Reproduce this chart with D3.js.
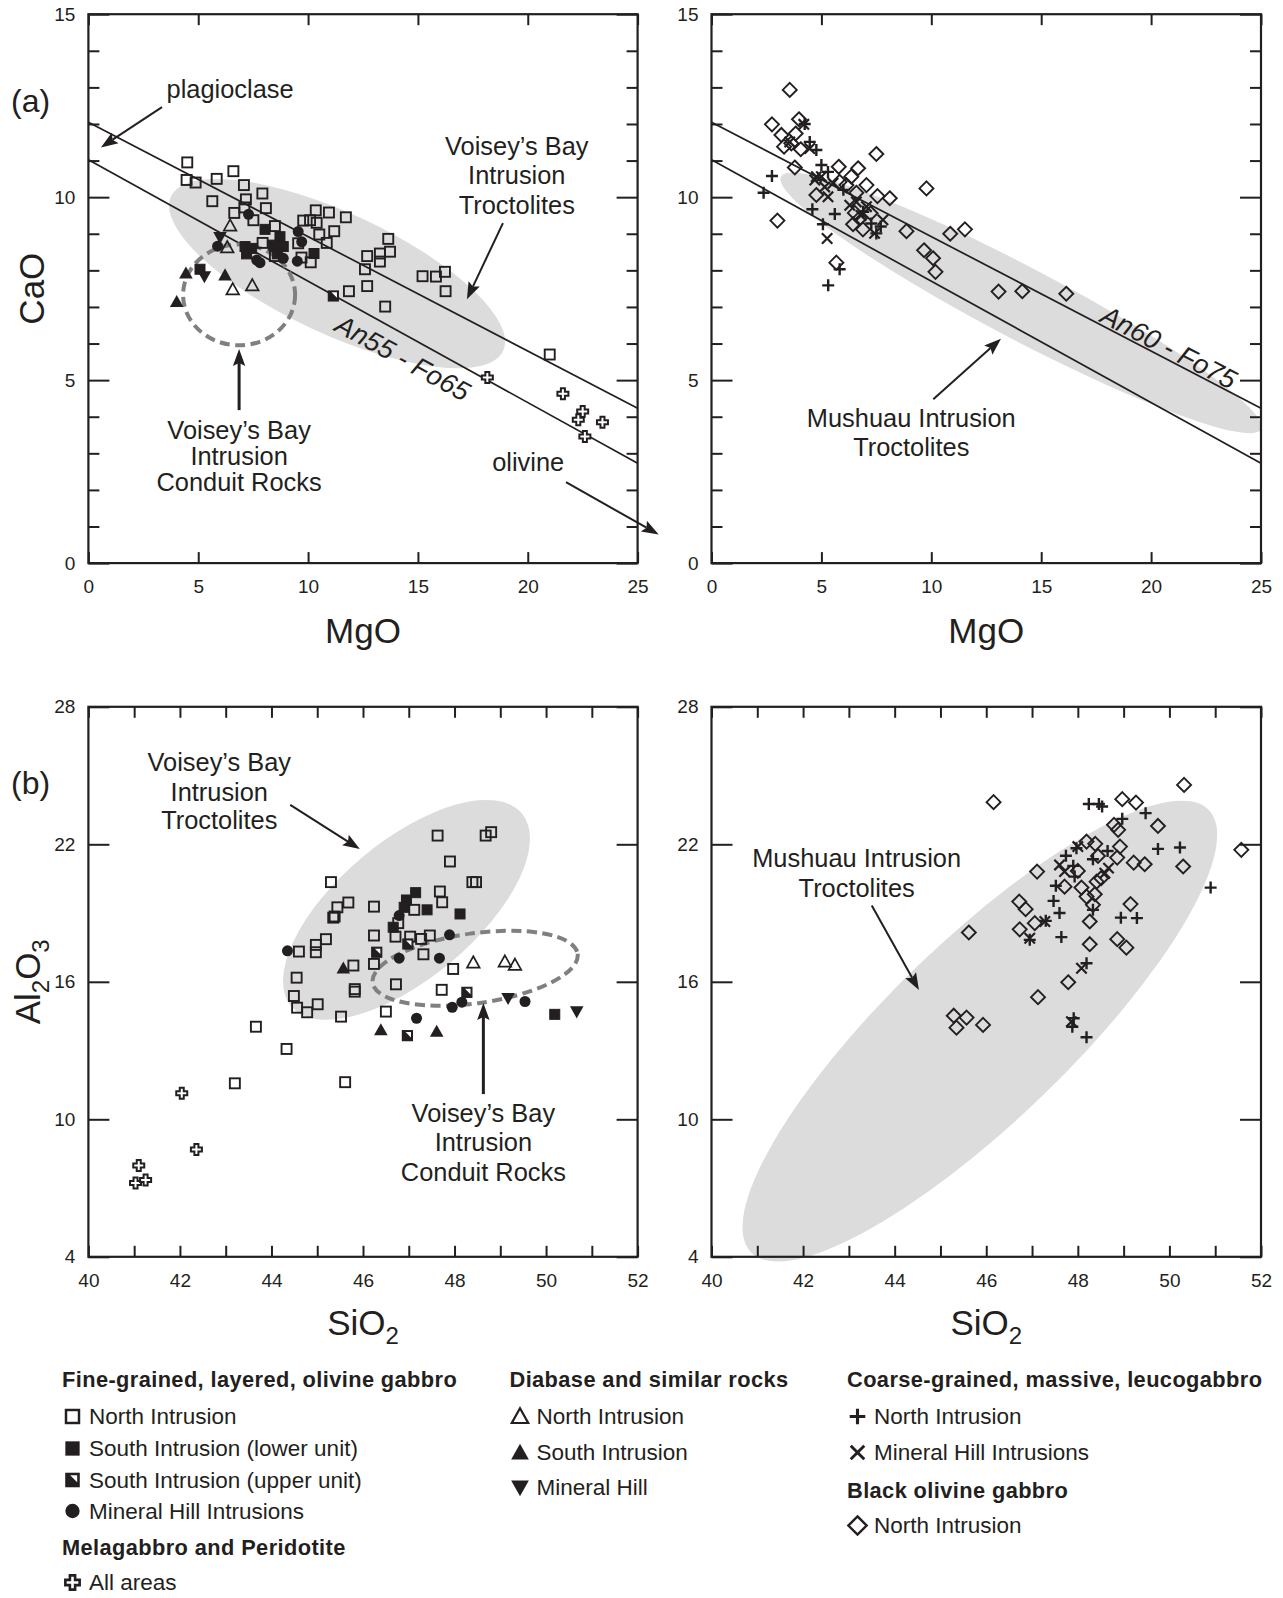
<!DOCTYPE html>
<html>
<head>
<meta charset="utf-8">
<style>
  body { margin: 0; background: #fff; }
  svg text { font-family: "Liberation Sans", Arial, Helvetica, sans-serif; fill: #231f20; }
</style>
</head>
<body>
<svg id="fig" width="1283" height="1598"></svg>
<script src="https://d3js.org/d3.v7.min.js"></script>
<script>
// ---------- data ----------
// panel (a) left: MgO vs CaO, Voisey's Bay
var aL_fineNorth = [[4.50,10.95],[4.47,10.47],[4.88,10.40],[5.84,10.50],[6.60,10.71],[5.64,9.89],[7.08,10.33],[7.17,9.94],[7.10,9.72],
  [7.92,10.10],[6.64,9.57],[8.08,9.70],[7.51,9.37],[8.49,9.21],[10.35,9.64],[10.95,9.58],[11.72,9.45],[9.78,9.36],[10.09,9.37],
  [10.39,9.30],[11.19,9.07],[10.51,8.98],[10.85,8.75],[9.55,8.74],[10.12,8.22],[7.93,8.75],[8.49,8.39],[9.70,8.35],[13.65,8.86],
  [12.69,8.39],[13.27,8.46],[13.73,8.51],[13.27,8.24],[12.59,8.03],[12.69,7.57],[13.51,7.01],[11.86,7.43],[15.21,7.84],
  [15.82,7.83],[16.23,7.96],[16.26,7.43],[21.0,5.70]];
var aL_fineSouthLower = [[8.04,9.12],[8.72,8.92],[8.42,8.69],[8.87,8.65],[7.13,8.65],[7.43,8.60],[7.20,8.45],[10.27,8.46],[5.08,8.03],[8.60,8.45]];
var aL_fineSouthUpper = [[11.15,7.30]];
var aL_fineMH = [[7.29,9.53],[5.88,8.66],[7.66,8.28],[7.81,8.21],[8.87,8.33],[9.51,8.25],[9.55,9.06],[9.71,8.78]];
var aL_diaNorth = [[6.45,9.22],[6.32,8.63],[6.57,7.48],[7.46,7.59]];
var aL_diaSouth = [[4.44,7.92],[4.02,7.14],[6.22,7.87]];
var aL_diaMH = [[5.28,7.83],[5.99,8.90]];
var aL_mela = [[18.16,5.07],[21.6,4.63],[22.5,4.14],[22.3,3.92],[23.4,3.85],[22.6,3.46]];

// panel (a) right: MgO vs CaO, Mushuau
var aR_blackNorth = [[3.56,12.93],[2.75,11.99],[3.98,12.13],[3.18,11.70],[3.83,11.74],[3.30,11.38],[3.63,11.47],[4.06,11.31],
  [3.79,10.81],[7.50,11.18],[5.79,10.83],[6.67,10.79],[7.05,10.33],[9.78,10.24],[4.77,10.06],[7.55,10.03],[8.11,9.97],
  [6.59,10.12],[5.83,10.42],[6.14,10.33],[3.00,9.36],[6.52,9.57],[6.74,9.42],[6.44,9.26],[6.89,9.12],[7.24,9.56],[8.87,9.07],
  [9.67,8.55],[10.08,8.33],[5.68,8.21],[10.86,9.00],[11.53,9.12],[13.06,7.42],[14.14,7.43],[16.14,7.36],[10.19,7.96],[6.36,10.56]];
var aR_coarseNorth = [[2.75,10.58],[2.37,10.12],[4.59,9.67],[5.61,9.54],[5.07,9.26],[7.50,9.01],[5.83,8.03],[4.77,11.29],
  [4.47,11.51],[5.00,10.88],[5.30,10.69],[7.27,9.28],[5.31,7.59],[4.24,12.00],[6.00,10.20],[6.90,9.60],[7.70,9.20]];
var aR_coarseMH = [[5.26,8.87],[4.20,11.99],[4.47,11.33],[3.56,11.51],[4.70,10.47],[5.30,10.01],[7.80,9.38],[7.42,9.01],
  [6.29,9.78],[6.59,9.87],[5.00,10.56],[5.53,10.38],[7.05,9.74],[4.77,10.56],[5.15,10.28],[6.80,9.50]];

// panel (b) left: SiO2 vs Al2O3, Voisey's Bay
var bL_fineNorth = [[47.63,22.38],[48.68,22.38],[48.80,22.53],[47.90,21.25],[48.39,20.35],[48.47,20.35],[47.68,19.94],[47.73,19.47],
  [45.30,20.35],[45.68,19.46],[45.44,19.25],[45.35,18.80],[45.38,18.85],[46.24,19.28],[47.12,19.14],[46.77,18.56],[46.24,18.02],
  [46.71,17.97],[47.03,17.97],[47.27,17.87],[47.46,18.02],[47.32,17.20],[45.19,17.86],[44.97,17.61],[44.97,17.29],[44.60,17.32],
  [45.79,16.71],[46.24,16.78],[44.55,16.18],[44.49,15.38],[44.56,14.87],[44.78,14.67],[45.01,15.02],[45.52,14.48],[45.82,15.68],
  [45.82,15.57],[46.72,15.89],[47.72,15.65],[47.97,16.56],[46.50,14.70],[43.66,14.04],[44.33,13.07],[43.20,11.57],[45.61,11.62]];
var bL_fineSouthLower = [[47.15,19.89],[46.95,19.57],[46.90,19.25],[47.40,19.14],[48.12,18.96],[46.66,18.38],[50.19,14.58]];
var bL_fineSouthUpper = [[46.30,17.29],[46.98,17.65],[48.27,15.54],[46.97,13.65]];
var bL_fineMH = [[44.35,17.35],[46.79,18.89],[46.79,17.03],[47.89,18.05],[47.67,17.03],[47.95,14.89],[48.16,15.11],[47.17,14.41],[49.54,15.14]];
var bL_diaNorth = [[48.41,16.84],[49.10,16.88],[49.32,16.74]];
var bL_diaSouth = [[45.57,16.59],[46.39,13.90],[47.61,13.83]];
var bL_diaMH = [[49.17,15.28],[50.67,14.70]];
var bL_mela = [[42.04,11.14],[42.36,8.68],[41.10,7.98],[41.03,7.22],[41.25,7.35]];

// panel (b) right: SiO2 vs Al2O3, Mushuau
var bR_blackNorth = [[50.32,24.59],[46.16,23.84],[48.97,23.97],[49.27,23.82],[49.75,22.80],[48.79,22.85],[48.88,22.63],[48.92,21.90],
  [48.86,21.42],[49.22,21.20],[49.46,21.13],[50.30,21.03],[51.57,21.76],[48.19,22.12],[48.38,22.02],[48.44,21.49],[47.11,20.81],
  [48.00,20.84],[47.71,20.15],[48.08,20.11],[48.41,20.37],[48.51,20.52],[48.19,19.72],[48.37,19.82],[48.33,19.36],[46.72,19.50],
  [46.86,19.17],[49.15,19.39],[48.26,18.63],[46.73,18.29],[47.06,18.56],[45.62,18.15],[48.86,17.86],[49.06,17.49],[48.26,17.64],
  [47.79,15.98],[47.13,15.33],[45.29,14.52],[45.57,14.44],[45.35,14.00],[45.93,14.12]];
var bR_coarseNorth = [[48.24,23.76],[48.46,23.76],[48.53,23.65],[49.48,23.36],[48.97,23.11],[49.75,21.80],[50.23,21.86],[50.90,20.11],
  [48.94,18.80],[49.29,18.78],[47.64,17.95],[47.60,19.00],[47.47,19.53],[47.52,20.19],[47.74,21.50],[47.97,21.83],[48.65,21.71],
  [48.33,21.35],[47.90,21.06],[47.93,20.59],[47.30,18.66],[48.19,16.81],[47.91,14.41],[47.88,14.04],[48.19,13.58],[48.33,19.14],[46.95,17.83]];
var bR_coarseMH = [[47.60,21.10],[47.71,20.81],[48.00,21.90],[48.59,20.74],[48.67,20.96],[46.95,17.90],[47.28,18.63],[48.08,16.59],[47.86,14.26]];

// mixing lines (MgO, CaO)
var mixUpper = [[0,12.05],[25,4.23]];
var mixLower = [[0,11.02],[25,2.73]];

// fields: centre, end of long axis, short/long axis ratio
var fieldVBTroctA = {c:[11.32,7.91], e:[18.88,5.80], r:0.33};
var fieldMushA = {c:[14.08,7.11], e:[25.0,3.66], r:0.133};
var fieldConduitA = {c:[6.86,7.33], e:[9.41,7.33], r:0.9};
var fieldVBTroctB = {c:[46.95,19.14], e:[49.47,23.35], r:0.457};
var fieldConduitB = {c:[48.45,16.59], e:[50.69,17.22], r:0.338};
var fieldMushB = {c:[45.86,13.85], e:[50.86,23.50], r:0.283};

// axis ticks
var aXTicks = [0,5,10,15,20,25];
var aYMajor = [0,5,10,15];
var aYMinor = [1,2,3,4,6,7,8,9,11,12,13,14];
var bXTicks = [40,41,42,43,44,45,46,47,48,49,50,51,52];
var bYMajor = [4,10,16,22,28];

// ---------- drawing ----------
var INK = '#231f20', SHADE = '#dcdcdc', DASH = '#808080';
var FONT = '"Liberation Sans", Arial, Helvetica, sans-serif';
var svg = d3.select('#fig');
var defs = svg.append('defs');

function makePanel(id, f, xd, yd) {
  var x = d3.scaleLinear().domain(xd).range([f.x0, f.x1]);
  var y = d3.scaleLinear().domain(yd).range([f.y1, f.y0]);
  defs.append('clipPath').attr('id', 'clip-' + id).append('rect')
    .attr('x', f.x0).attr('y', f.y0).attr('width', f.x1 - f.x0).attr('height', f.y1 - f.y0);
  return {id: id, x: x, y: y, f: f, g: svg.append('g')};
}

var pAL = makePanel('aL', {x0:88.4, x1:637.6, y0:14.2, y1:563.1}, [0,25], [0,15]);
var pAR = makePanel('aR', {x0:711.5, x1:1261, y0:14.2, y1:563.1}, [0,25], [0,15]);
var pBL = makePanel('bL', {x0:88.4, x1:637.6, y0:706.8, y1:1256.8}, [40,52], [4,28]);
var pBR = makePanel('bR', {x0:711.5, x1:1261, y0:706.8, y1:1256.8}, [40,52], [4,28]);

function field(p, fd, style, clip) {
  var cx = p.x(fd.c[0]), cy = p.y(fd.c[1]);
  var ex = p.x(fd.e[0]), ey = p.y(fd.e[1]);
  var a = Math.hypot(ex - cx, ey - cy);
  var ang = Math.atan2(ey - cy, ex - cx) * 180 / Math.PI;
  var holder = p.g.append('g');
  if (clip) holder.attr('clip-path', 'url(#clip-' + p.id + ')');
  var el = holder.append('ellipse')
    .attr('cx', cx).attr('cy', cy).attr('rx', a).attr('ry', a * fd.r)
    .attr('transform', 'rotate(' + ang + ',' + cx + ',' + cy + ')');
  if (style == 'shade') el.attr('fill', SHADE).attr('stroke', 'none');
  else el.attr('fill', 'none').attr('stroke', DASH).attr('stroke-width', 4).attr('stroke-dasharray', '10,5.5');
}

function mixLine(p, pts) {
  p.g.append('line')
    .attr('x1', p.x(pts[0][0])).attr('y1', p.y(pts[0][1]))
    .attr('x2', p.x(pts[1][0])).attr('y2', p.y(pts[1][1]))
    .attr('stroke', INK).attr('stroke-width', 1.7);
}

function drawShape(s, type) {
  if (type == 'sqOpen') {
    s.append('rect').attr('x',-5).attr('y',-5).attr('width',10).attr('height',10)
      .attr('fill','none').attr('stroke',INK).attr('stroke-width',1.9);
  } else if (type == 'sqFill') {
    s.append('rect').attr('x',-5).attr('y',-5).attr('width',10).attr('height',10)
      .attr('fill',INK).attr('stroke',INK).attr('stroke-width',1);
  } else if (type == 'sqHalf') {
    s.append('rect').attr('x',-5).attr('y',-5).attr('width',10).attr('height',10)
      .attr('fill',INK).attr('stroke',INK).attr('stroke-width',1.2);
    s.append('path').attr('d','M-1.8,-3.6L3.6,-3.6L3.6,1.8Z').attr('fill','#fff');
  } else if (type == 'circle') {
    s.append('circle').attr('r',5.5).attr('fill',INK);
  } else if (type == 'triOpen') {
    s.append('path').attr('d','M0,-6.3L6.3,5L-6.3,5Z').attr('fill','none').attr('stroke',INK).attr('stroke-width',1.7);
  } else if (type == 'triFill') {
    s.append('path').attr('d','M0,-6.8L6.8,5.3L-6.8,5.3Z').attr('fill',INK);
  } else if (type == 'triDown') {
    s.append('path').attr('d','M0,6.8L6.8,-5.3L-6.8,-5.3Z').attr('fill',INK);
  } else if (type == 'mela') {
    s.append('path').attr('d','M-2,-5.5H2V-2H5.5V2H2V5.5H-2V2H-5.5V-2H-2Z')
      .attr('fill','#fff').attr('stroke',INK).attr('stroke-width',2);
  } else if (type == 'plus') {
    s.append('path').attr('d','M-6,0H6M0,-6V6').attr('stroke',INK).attr('stroke-width',2.4);
  } else if (type == 'cross') {
    s.append('path').attr('d','M-5.2,-5.2L5.2,5.2M-5.2,5.2L5.2,-5.2').attr('stroke',INK).attr('stroke-width',2.2);
  } else if (type == 'diamond') {
    s.append('path').attr('d','M0,-7L7,0L0,7L-7,0Z').attr('fill','none').attr('stroke',INK).attr('stroke-width',1.9);
  }
}

function points(p, data, type) {
  p.g.append('g').selectAll('g').data(data).enter().append('g')
    .attr('transform', function(d) { return 'translate(' + p.x(d[0]) + ',' + p.y(d[1]) + ')'; })
    .each(function() { drawShape(d3.select(this), type); });
}

function axes(p, o) {
  var f = p.f;
  var ax = p.g.append('g').attr('color', INK);
  function style(sel) {
    sel.select('.domain').remove();
    sel.selectAll('.tick line').attr('stroke-width', 2);
    sel.attr('font-size', 19).attr('font-family', FONT);
  }
  ax.append('g').attr('transform', 'translate(0,' + f.y1 + ')')
    .call(d3.axisBottom(p.x).tickValues(o.xTicks).tickSize(-11).tickPadding(16.5).tickFormat(o.xFmt)).call(style);
  ax.append('g').attr('transform', 'translate(0,' + f.y0 + ')')
    .call(d3.axisTop(p.x).tickValues(o.xTicks).tickSize(-11).tickFormat('')).call(style);
  ax.append('g').attr('transform', 'translate(' + f.x0 + ',0)')
    .call(d3.axisLeft(p.y).tickValues(o.yMajor).tickSize(-21).tickPadding(13).tickFormat(d3.format('d'))).call(style);
  ax.append('g').attr('transform', 'translate(' + f.x1 + ',0)')
    .call(d3.axisRight(p.y).tickValues(o.yMajor).tickSize(-21).tickFormat('')).call(style);
  if (o.yMinor) {
    ax.append('g').attr('transform', 'translate(' + f.x0 + ',0)')
      .call(d3.axisLeft(p.y).tickValues(o.yMinor).tickSize(-11).tickFormat('')).call(style);
    ax.append('g').attr('transform', 'translate(' + f.x1 + ',0)')
      .call(d3.axisRight(p.y).tickValues(o.yMinor).tickSize(-11).tickFormat('')).call(style);
  }
  ax.append('rect').attr('x', f.x0).attr('y', f.y0).attr('width', f.x1 - f.x0).attr('height', f.y1 - f.y0)
    .attr('fill', 'none').attr('stroke', INK).attr('stroke-width', 2.2);
}

function arrow(p, from, to, w) {
  var x1 = p.x(from[0]), y1 = p.y(from[1]), x2 = p.x(to[0]), y2 = p.y(to[1]);
  var L = 17, hw = 6.2;
  var len = Math.hypot(x2 - x1, y2 - y1), ux = (x2 - x1) / len, uy = (y2 - y1) / len;
  var bx = x2 - ux * L, by = y2 - uy * L;
  p.g.append('line').attr('x1', x1).attr('y1', y1).attr('x2', bx + ux * 3).attr('y2', by + uy * 3)
    .attr('stroke', INK).attr('stroke-width', w || 2);
  p.g.append('path')
    .attr('d', 'M' + x2 + ',' + y2 + 'L' + (bx - uy * hw) + ',' + (by + ux * hw) + 'L' + (bx + ux * 3) + ',' + (by + uy * 3) +
      'L' + (bx + uy * hw) + ',' + (by - ux * hw) + 'Z')
    .attr('fill', INK);
}

function label(p, xv, yvs, lines, size) {
  lines.forEach(function(t, i) {
    p.g.append('text').attr('x', p.x(xv)).attr('y', p.y(yvs[i]))
      .attr('text-anchor', 'middle').attr('font-size', size || 25.4).text(t);
  });
}

function lineLabel(p, at, along, txt) {
  var ang = Math.atan2(p.y(along[1][1]) - p.y(along[0][1]), p.x(along[1][0]) - p.x(along[0][0])) * 180 / Math.PI;
  var cx = p.x(at[0]), cy = p.y(at[1]);
  p.g.append('text').attr('x', cx).attr('y', cy).attr('dy', '0.35em')
    .attr('text-anchor', 'middle').attr('font-size', 27).attr('font-style', 'italic')
    .attr('transform', 'rotate(' + ang + ',' + cx + ',' + cy + ')').text(txt);
}

// ----- panel (a) left -----
field(pAL, fieldVBTroctA, 'shade');
mixLine(pAL, mixUpper); mixLine(pAL, mixLower);
field(pAL, fieldConduitA, 'dash');
points(pAL, aL_fineNorth, 'sqOpen');
points(pAL, aL_fineSouthLower, 'sqFill');
points(pAL, aL_fineSouthUpper, 'sqHalf');
points(pAL, aL_fineMH, 'circle');
points(pAL, aL_diaNorth, 'triOpen');
points(pAL, aL_diaSouth, 'triFill');
points(pAL, aL_diaMH, 'triDown');
points(pAL, aL_mela, 'mela');
axes(pAL, {xTicks: aXTicks, xFmt: d3.format('d'), yMajor: aYMajor, yMinor: aYMinor});
label(pAL, 6.45, [12.72], ['plagioclase']);
arrow(pAL, [3.35,12.46], [0.57,11.36]);
label(pAL, 19.5, [11.15,10.35,9.54], ['Voisey\u2019s Bay','Intrusion','Troctolites']);
arrow(pAL, [18.87,9.29], [17.23,7.21]);
lineLabel(pAL, [14.32,5.61], mixLower, 'An55 - Fo65');
label(pAL, 6.86, [3.40,2.68,1.97], ['Voisey\u2019s Bay','Intrusion','Conduit Rocks']);
arrow(pAL, [6.86,4.18], [6.86,5.85], 3);
label(pAL, 20.02, [2.53], ['olivine']);
arrow(pAL, [21.74,2.21], [25.96,0.78]);

// ----- panel (a) right -----
field(pAR, fieldMushA, 'shade', true);
mixLine(pAR, mixUpper); mixLine(pAR, mixLower);
points(pAR, aR_blackNorth, 'diamond');
points(pAR, aR_coarseNorth, 'plus');
points(pAR, aR_coarseMH, 'cross');
axes(pAR, {xTicks: aXTicks, xFmt: d3.format('d'), yMajor: aYMajor, yMinor: aYMinor});
lineLabel(pAR, [20.81,5.90], mixUpper, 'An60 - Fo75');
label(pAR, 9.09, [3.73,2.93], ['Mushuau Intrusion','Troctolites']);
arrow(pAR, [10.09,4.48], [13.17,6.13]);

// ----- panel (b) left -----
var evenFmt = function(d) { return d % 2 == 0 ? d : ''; };
field(pBL, fieldVBTroctB, 'shade');
field(pBL, fieldConduitB, 'dash');
points(pBL, bL_fineNorth, 'sqOpen');
points(pBL, bL_fineSouthLower, 'sqFill');
points(pBL, bL_fineSouthUpper, 'sqHalf');
points(pBL, bL_fineMH, 'circle');
points(pBL, bL_diaNorth, 'triOpen');
points(pBL, bL_diaSouth, 'triFill');
points(pBL, bL_diaMH, 'triDown');
points(pBL, bL_mela, 'mela');
axes(pBL, {xTicks: bXTicks, xFmt: evenFmt, yMajor: bYMajor});
label(pBL, 42.86, [25.20,23.91,22.65], ['Voisey\u2019s Bay','Intrusion','Troctolites']);
arrow(pBL, [44.41,23.72], [45.93,21.79]);
label(pBL, 48.63, [9.90,8.60,7.29], ['Voisey\u2019s Bay','Intrusion','Conduit Rocks']);
arrow(pBL, [48.63,11.10], [48.63,15.08], 3);

// ----- panel (b) right -----
field(pBR, fieldMushB, 'shade');
points(pBR, bR_blackNorth, 'diamond');
points(pBR, bR_coarseNorth, 'plus');
points(pBR, bR_coarseMH, 'cross');
axes(pBR, {xTicks: bXTicks, xFmt: evenFmt, yMajor: bYMajor});
label(pBR, 43.17, [21.01,19.72], ['Mushuau Intrusion','Troctolites']);
arrow(pBR, [43.50,19.33], [44.53,15.64]);

// ----- axis titles and panel letters -----
function title(x, y, parts, rot) {
  var t = svg.append('text').attr('x', x).attr('y', y).attr('text-anchor', 'middle').attr('font-size', 35);
  if (rot) t.attr('transform', 'rotate(-90,' + x + ',' + y + ')');
  parts.forEach(function(pt) {
    var s = t.append('tspan').text(pt[0]);
    if (pt[1]) s.attr('dy', pt[1]);
    if (pt[2]) s.attr('font-size', pt[2]);
  });
}
title((pAL.f.x0 + pAL.f.x1) / 2, pAL.f.y1 + 80, [['MgO']]);
title((pAR.f.x0 + pAR.f.x1) / 2, pAR.f.y1 + 80, [['MgO']]);
title((pBL.f.x0 + pBL.f.x1) / 2, pBL.f.y1 + 78, [['SiO'], ['2', 9, 24]]);
title((pBR.f.x0 + pBR.f.x1) / 2, pBR.f.y1 + 78, [['SiO'], ['2', 9, 24]]);
title(44, (pAL.f.y0 + pAL.f.y1) / 2, [['CaO']], true);
title(40, (pBL.f.y0 + pBL.f.y1) / 2, [['Al'], ['2', 9, 24], ['O', -9], ['3', 9, 24]], true);
svg.append('text').attr('x', 11).attr('y', 112).attr('font-size', 32).text('(a)');
svg.append('text').attr('x', 11).attr('y', 794).attr('font-size', 32).text('(b)');

// ----- legend -----
var legend = [
  {x: 62, head: [['Fine-grained, layered, olivine gabbro', 1387], ['Melagabbro and Peridotite', 1555]],
   items: [['sqOpen', 'North Intrusion', 1424], ['sqFill', 'South Intrusion (lower unit)', 1456], ['sqHalf', 'South Intrusion (upper unit)', 1487.5],
           ['circle', 'Mineral Hill Intrusions', 1518.5], ['mela', 'All areas', 1590]]},
  {x: 509.5, head: [['Diabase and similar rocks', 1387]],
   items: [['triOpen', 'North Intrusion', 1424], ['triFill', 'South Intrusion', 1460], ['triDown', 'Mineral Hill', 1495]]},
  {x: 847, head: [['Coarse-grained, massive, leucogabbro', 1387], ['Black olivine gabbro', 1498]],
   items: [['plus', 'North Intrusion', 1424], ['cross', 'Mineral Hill Intrusions', 1460], ['diamond', 'North Intrusion', 1533]]}
];
var lg = svg.append('g');
legend.forEach(function(col) {
  col.head.forEach(function(h) {
    lg.append('text').attr('x', col.x).attr('y', h[1]).attr('font-size', 21.8).attr('font-weight', 'bold')
      .attr('letter-spacing', 0.4).text(h[0]);
  });
  col.items.forEach(function(it) {
    var s = lg.append('g').attr('transform', 'translate(' + (col.x + 10.5) + ',' + (it[2] - 7.5) + ') scale(1.3)');
    drawShape(s, it[0]);
    lg.append('text').attr('x', col.x + 27).attr('y', it[2]).attr('font-size', 22.5).text(it[1]);
  });
});
</script>
</body>
</html>
